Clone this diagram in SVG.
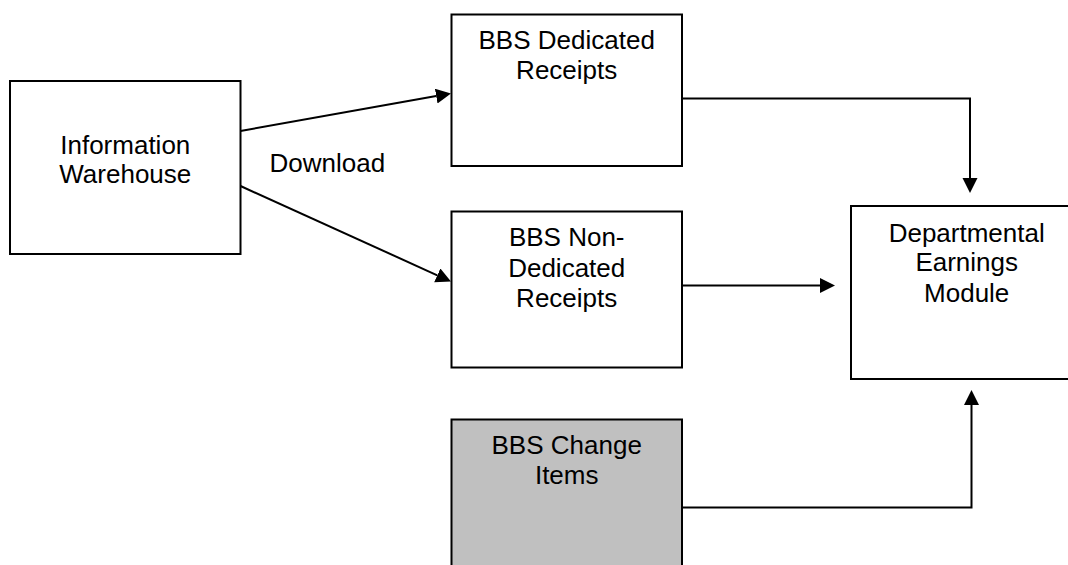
<svg xmlns="http://www.w3.org/2000/svg" width="1068" height="565" viewBox="0 0 1068 565">
  <style>
    .box { fill: #ffffff; stroke: #000000; stroke-width: 2; }
    .box.shaded { fill: #c0c0c0; }
    .label { font-family: "Liberation Sans", Arial, sans-serif; font-size: 26px; fill: #000000; text-anchor: middle; }
    .free { text-anchor: start; }
    .link { fill: none; stroke: #000000; stroke-width: 2; marker-end: url(#arrow); }
  </style>
  <defs>
    <marker id="arrow" markerUnits="userSpaceOnUse" markerWidth="16" markerHeight="16" refX="0" refY="7.5" orient="auto">
      <path d="M0,0 L15,7.5 L0,15 z" fill="#000000"/>
    </marker>
  </defs>

  <rect width="1068" height="565" fill="#ffffff"/>

  <g id="connectors">
    <line class="link" x1="240.5" y1="131" x2="436.2" y2="96.1"/>
    <line class="link" x1="240.5" y1="186" x2="437.3" y2="275.3"/>
    <polyline class="link" points="682,98.5 970,98.5 970,178"/>
    <line class="link" x1="682" y1="285.5" x2="820" y2="285.5"/>
    <polyline class="link" points="682,507.5 971.5,507.5 971.5,405"/>
  </g>

  <g id="information-warehouse">
    <rect class="box" x="10" y="81" width="230.5" height="173"/>
    <text class="label" x="125.3" y="154.3">Information</text>
    <text class="label" x="125.3" y="183.3">Warehouse</text>
  </g>

  <g id="download-label">
    <text class="label free" x="269.5" y="172.3">Download</text>
  </g>

  <g id="bbs-dedicated-receipts">
    <rect class="box" x="451.5" y="14.5" width="230.5" height="151.5"/>
    <text class="label" x="566.7" y="48.5">BBS Dedicated</text>
    <text class="label" x="566.7" y="78.5">Receipts</text>
  </g>

  <g id="bbs-non-dedicated-receipts">
    <rect class="box" x="451.5" y="211.5" width="230.5" height="156"/>
    <text class="label" x="566.7" y="245.7">BBS Non-</text>
    <text class="label" x="566.7" y="276.7">Dedicated</text>
    <text class="label" x="566.7" y="306.7">Receipts</text>
  </g>

  <g id="bbs-change-items">
    <rect class="box shaded" x="451.5" y="419.5" width="230.5" height="160"/>
    <text class="label" x="566.7" y="454">BBS Change</text>
    <text class="label" x="566.7" y="484.3">Items</text>
  </g>

  <g id="departmental-earnings-module">
    <rect class="box" x="851" y="206" width="234" height="173"/>
    <text class="label" x="966.7" y="241.7">Departmental</text>
    <text class="label" x="966.7" y="271">Earnings</text>
    <text class="label" x="966.7" y="301.7">Module</text>
  </g>
</svg>
